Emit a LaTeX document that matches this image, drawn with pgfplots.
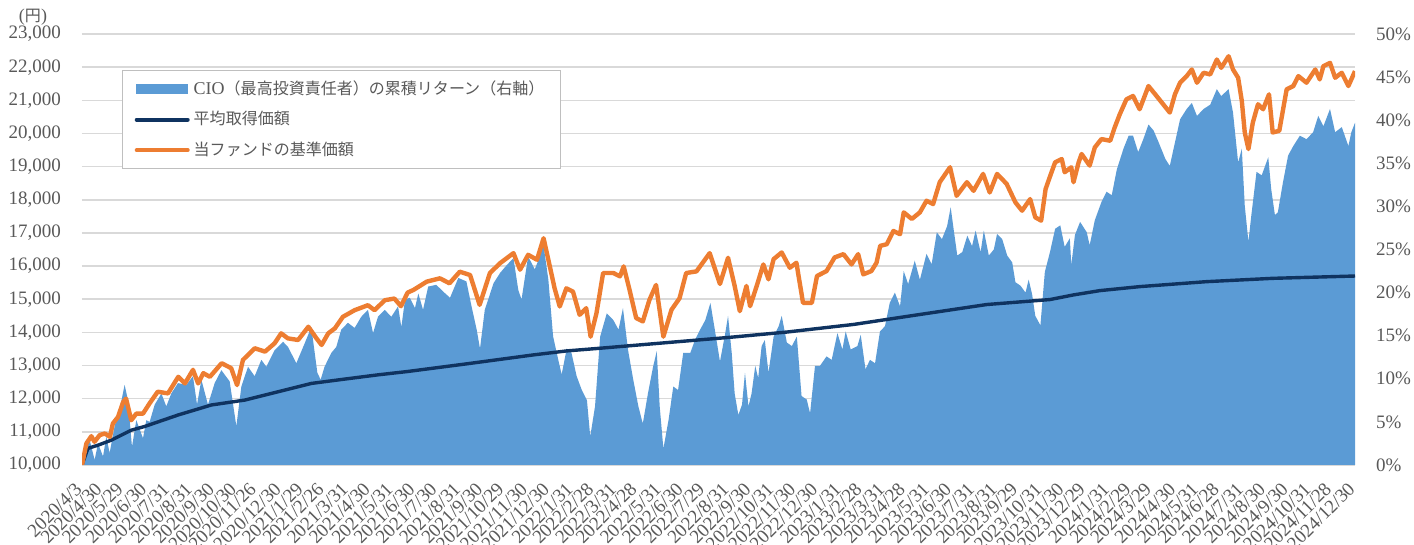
\documentclass[border=0pt]{standalone}
\usepackage{fontspec}
\setmainfont{Liberation Serif}
\newfontfamily\jp[Scale=0.89]{Noto Sans CJK JP}
\usepackage{pgfplots}
\pgfplotsset{compat=1.18}
\definecolor{cioblue}{HTML}{5B9BD5}
\definecolor{navorange}{HTML}{ED7D31}
\definecolor{avgnavy}{HTML}{0F3360}
\definecolor{gridgray}{HTML}{D9D9D9}
\definecolor{labgray}{HTML}{595959}

\pgfplotstableread{
day nav
0 10000
6 10650
12.7 10870
17 10700
24 10900
31 10950
38 10850
42 11250
49 11450
56 11900
60 12000
67 11350
74 11550
83 11550
92 11860
103 12210
117 12160
131 12660
140 12460
151 12870
158 12460
165 12770
174 12660
190 13070
203 12920
211 12410
219 13170
235 13520
249 13420
262 13670
271 13970
280 13820
294 13770
308 14170
319 13820
326 13620
335 13970
344 14120
355 14470
371 14670
389 14820
398 14670
412 14970
425 15020
434 14790
443 15200
451 15280
469 15530
487 15630
500 15480
514 15830
528 15730
541 14830
555 15790
569 16090
587 16390
596 15890
607 16340
619 16190
628 16840
637 15940
643 15330
650 14780
659 15330
668 15230
677 14530
686 14730
692 13870
700 14580
709 15790
723 15790
732 15690
737 15990
745 15280
754 14430
763 14330
772 14980
781 15430
791 13870
802 14680
813 15030
822 15790
836 15840
854 16390
868 15460
879 16250
888 15400
895 14640
904 15400
909 14790
918 15400
927 16050
934 15600
941 16210
952 16410
963 15950
972 16100
981 14890
993 14890
1000 15700
1013 15850
1024 16260
1036 16360
1047 16050
1056 16360
1063 15750
1074 15850
1081 16100
1086 16610
1095 16660
1104 17060
1113 16960
1118 17620
1129 17420
1140 17620
1149 17970
1158 17870
1167 18530
1181 18980
1190 18120
1204 18530
1213 18270
1226 18780
1235 18220
1245 18780
1258 18480
1270 17920
1279 17670
1290 18020
1297 17470
1305 17370
1311 18320
1317 18700
1324 19130
1333 19230
1337 18830
1346 18980
1349 18530
1356 19130
1360 19380
1371 19030
1378 19580
1387 19830
1399 19780
1405 20180
1412 20580
1421 21030
1430 21130
1439 20730
1451 21430
1462 21130
1471 20880
1480 20630
1487 21180
1494 21530
1503 21730
1510 21930
1517 21530
1526 21830
1535 21780
1544 22230
1550 21980
1560 22330
1566 21930
1573 21680
1578 20980
1582 20030
1587 19530
1593 20330
1600 20880
1607 20730
1615 21180
1620 20030
1629 20080
1639 21330
1648 21430
1655 21730
1666 21530
1678 21930
1684 21630
1689 22030
1698 22130
1705 21680
1714 21830
1723 21430
1732 21880
}\navtable

\pgfplotstableread{
day avg
0 10000
8 10500
22 10600
40 10750
67 11050
85 11160
131 11510
176 11810
222 11960
267 12210
312 12460
357 12590
403 12720
443 12820
523 13050
614 13320
659 13440
704 13520
795 13690
881 13850
959 14010
1050 14240
1140 14540
1231 14840
1317 14990
1349 15130
1385 15260
1439 15380
1530 15530
1620 15630
1732 15700
}\avgtable

\pgfplotstableread{
day ret
0 0
3.6 1.7
10.4 2.9
17.2 0.6
21.8 2.5
28.6 1.0
33.1 3.3
37.6 1.4
44.4 4.5
51.2 6.4
58 9.3
62.6 7.5
68 2.1
73.9 5.2
83 3.1
87.5 5.2
92 5.0
98.9 7.0
108 8.3
114.7 6.8
121.5 8.3
130.6 9.5
142 9.3
151 10.3
156.5 7.0
162.4 9.9
171.4 7.0
180.5 9.5
189.6 11.0
200.9 9.7
210 4.5
216.8 9.1
225.9 11.4
234.9 10.3
244 12.2
250.8 11.4
262 13.3
273.5 14.3
280.3 13.7
291.6 11.8
302.9 14.1
312 16.0
320.2 10.7
324.7 9.9
330 11.4
339.2 13.0
346 13.7
352.7 15.7
361.8 16.5
370.9 15.9
380 17.2
389 18.0
396 15.3
402.7 17.2
411.8 18.0
420.9 17.2
430 18.4
434.5 16.0
439.5 19.2
446 19.4
453 18.2
457.6 19.9
464 18.0
471 20.7
482 20.9
491.6 20.1
500.7 19.4
512 21.7
523 21.3
530 18.4
537 15.7
541.5 13.5
548 18.0
560 21.1
569 22.3
578 23.2
587 24.0
593.6 20.3
598 19.2
607 24.2
616 22.7
623 24.2
627.6 25.7
634.5 21.5
641 14.9
648 12.2
652.6 10.5
659.5 13.5
666 13.0
673 10.3
680 8.7
687 7.5
691.5 3.3
698 6.8
705 14.9
714 17.6
723 16.8
730 15.7
736 18.2
743 13.3
750 9.9
757 6.8
763 4.8
770 8.3
777 11.4
782 13.2
786 6.8
791 1.9
798 5.2
804.5 9.1
811 8.7
818 13.0
827.6 13.0
834 14.5
841 15.7
848 16.8
855 18.8
861 15.7
868 12.0
875 15.2
879 17.3
884 13.0
888 8.3
893 5.8
898 7.0
902 10.7
906.8 6.8
911 8.3
916 11.5
920 10.1
924.7 13.8
929 14.5
934 10.7
941 14.9
947.9 16.1
952 17.3
959 14.2
965.8 13.8
972.6 14.9
979 8.0
986 7.6
990.6 6.0
997.3 11.5
1004 11.5
1013 12.6
1020 12.2
1027.8 15.3
1034.6 13.4
1039 15.5
1045.9 13.4
1055 13.8
1059.5 15.1
1066 11.1
1072.1 12.2
1079 11.8
1085.7 15.5
1092.5 16.1
1099 18.8
1106 20.0
1113 18.4
1118 22.5
1124 21.0
1133 23.7
1140 21.5
1149 24.5
1156 23.3
1163 27.0
1170 26.2
1177 27.7
1181.9 29.9
1186 27.3
1190.9 24.3
1197.7 24.7
1204.5 26.6
1211 25.4
1215.8 27.2
1222.6 24.7
1227 27.2
1233.8 24.3
1240.6 25.0
1245 26.8
1252 26.2
1258.8 24.3
1265.6 23.5
1270 21.2
1276.9 20.8
1283.7 20.0
1288 21.5
1292.7 19.8
1297 17.3
1304 16.2
1310 22.4
1317 24.7
1324 27.4
1331 27.8
1337 25.3
1344 26.3
1346 23.2
1351 26.7
1358 28.2
1367 27.0
1371 25.5
1378 28.4
1387 30.5
1394 31.7
1401 31.3
1408 34.3
1417 36.7
1424 38.2
1430 38.2
1437 36.3
1444 37.8
1451 39.5
1458 38.8
1465 37.4
1474 35.5
1480 34.7
1487 37.4
1494 40.1
1503 41.3
1510 42.0
1517 40.5
1526 41.3
1535 41.8
1544 43.6
1550 42.8
1560 43.6
1566 40.9
1573 35.1
1578 36.7
1582 30.1
1587 25.9
1591 29.0
1598 34.0
1605 33.6
1614 35.7
1618 32.0
1623 29.0
1627 29.3
1634 32.8
1641 35.9
1648 37.0
1657 38.2
1666 37.8
1675 38.6
1682 40.5
1689 39.3
1698 41.3
1705 38.6
1714 39.2
1723 37.0
1727 38.6
1732 39.7
}\rettable

\pgfplotsset{
  base/.style={scale only axis, width=636.5pt, height=215.5pt,
    at={(0,0)}, anchor=south west, xmin=0, xmax=1732,
    axis line style={draw=none}, major tick length=0pt},
  tickfont/.style={font=\fontsize{9.5pt}{11pt}\selectfont, text=labgray}
}

\begin{document}
\begin{tikzpicture}
\path[use as bounding box] (-41pt,-40pt) rectangle (666pt,232.5pt);

% left axis: grid and labels
\begin{axis}[base,
  ymin=10000, ymax=23000,
  ytick={10000,11000,...,23000},
  scaled y ticks=false,
  yticklabel={\pgfmathprintnumber[fixed, precision=0, 1000 sep={,}]{\tick}},
  ymajorgrids, grid style={gridgray, line width=0.75pt},
  xtick={0,27,56,88,119,150,180,210,237,271,301,329,362,392,423,453,483,515,545,574,606,636,668,696,727,755,788,818,847,880,910,941,971,1001,1033,1061,1092,1120,1153,1183,1214,1245,1273,1306,1336,1365,1398,1427,1455,1488,1519,1547,1580,1610,1641,1672,1700,1732},
  xticklabels={2020/4/3,2020/4/30,2020/5/29,2020/6/30,2020/7/31,2020/8/31,2020/9/30,2020/10/30,2020/11/26,2020/12/30,2021/1/29,2021/2/26,2021/3/31,2021/4/30,2021/5/31,2021/6/30,2021/7/30,2021/8/31,2021/9/30,2021/10/29,2021/11/30,2021/12/30,2022/1/31,2022/2/28,2022/3/31,2022/4/28,2022/5/31,2022/6/30,2022/7/29,2022/8/31,2022/9/30,2022/10/31,2022/11/30,2022/12/30,2023/1/31,2023/2/28,2023/3/31,2023/4/28,2023/5/31,2023/6/30,2023/7/31,2023/8/31,2023/9/29,2023/10/31,2023/11/30,2023/12/29,2024/1/31,2024/2/29,2024/3/29,2024/4/30,2024/5/31,2024/6/28,2024/7/31,2024/8/30,2024/9/30,2024/10/31,2024/11/28,2024/12/30},
  xticklabel style={tickfont, xshift=-4pt, yshift=-6.5pt, rotate=45, anchor=north east, inner sep=1pt},
  yticklabel style={tickfont, anchor=east, xshift=-7pt},
  /pgf/number format/assume math mode=true
]
\end{axis}

% right axis: CIO area
\begin{axis}[base,
  ymin=0, ymax=50, ytick={0,5,...,50},
  axis y line*=right, axis x line=none,
  yticklabel={\pgfmathprintnumber{\tick}\%},
  yticklabel style={tickfont, anchor=west, xshift=7pt},
  /pgf/number format/assume math mode=true
]
\addplot[fill=cioblue, draw=none] table[x=day, y=ret] {\rettable} \closedcycle;
\end{axis}

% left axis: lines + legend
\begin{axis}[base,
  ymin=10000, ymax=23000, axis lines=none, ticks=none,
  legend style={at={(rel axis cs:0.0314,0.9165)}, anchor=north west,
    draw=gray!50, line width=0.75pt, fill=white,
    font=\fontsize{9pt}{10pt}\selectfont, text=labgray,
    inner xsep=6pt, inner ysep=3pt, row sep=3pt,
    cells={anchor=west}},
  legend cell align=left
]
\addlegendimage{legend image code/.code={\fill[cioblue] (0pt,-2.3pt) rectangle (25.5pt,2.3pt);}}
\addlegendentry{CIO{\jp （最高投資責任者）の累積リターン（右軸）}}
\addplot[avgnavy, line width=1.7pt, line join=round,
  legend image code/.code={\draw[avgnavy, line width=2pt, line cap=round] (0pt,0pt) -- (25.5pt,0pt);}]
  table[x=day, y=avg] {\avgtable};
\addlegendentry{\jp 平均取得価額}
\addplot[navorange, line width=2.2pt, line join=round,
  legend image code/.code={\draw[navorange, line width=2pt, line cap=round] (0pt,0pt) -- (25.5pt,0pt);}]
  table[x=day, y=nav] {\navtable};
\addlegendentry{\jp 当ファンドの基準価額}
\end{axis}

\node[font=\fontsize{9pt}{10pt}\selectfont, text=labgray] at (-24.5pt,224pt) {({\jp 円})};
\end{tikzpicture}
\end{document}
